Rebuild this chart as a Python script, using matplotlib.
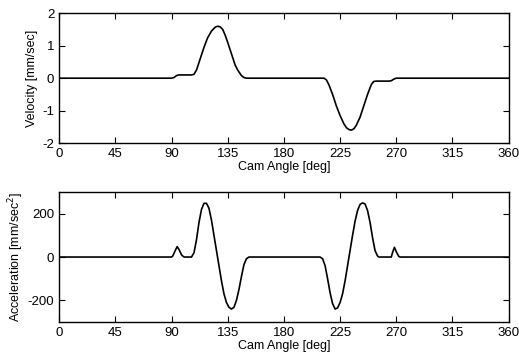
import matplotlib
matplotlib.use('Agg')
from matplotlib import pyplot as plt
import numpy as np

plt.rcParams['font.family'] = ['Liberation Sans', 'DejaVu Sans']
plt.rcParams['axes.unicode_minus'] = False

# velocity
vel_angle = [0, 90, 92, 94, 96, 106, 108, 110, 113, 116, 119, 122, 125, 127, 129, 131,
             133, 135, 138, 141, 143, 146, 148, 150, 212, 214, 216, 219, 222, 225,
             228, 230, 232, 234, 236, 238, 241, 244, 247, 250, 252, 254, 264, 266, 268,
             270, 360]
vel = [0, 0, 0.02, 0.08, 0.1, 0.1, 0.12, 0.25, 0.6, 0.95, 1.25, 1.45, 1.57, 1.6, 1.58, 1.5,
       1.32, 1.1, 0.75, 0.4, 0.25, 0.08, 0.02, 0, 0, -0.05, -0.2, -0.5, -0.85, -1.15,
       -1.4, -1.52, -1.58, -1.6, -1.56, -1.45, -1.2, -0.85, -0.5, -0.2, -0.1, -0.09, -0.09,
       -0.08, -0.03, 0, 0]

# acceleration
acc_angle = [0, 90, 91, 93, 94.5, 96, 98, 100, 106, 108, 110, 112, 114, 116, 118, 120,
             122, 124, 126, 128, 130, 132, 134, 136, 138, 140, 142, 144, 146, 148, 150,
             152, 209, 211, 213, 215, 217, 219, 221, 223, 225, 227, 229, 231, 233, 235,
             237, 239, 241, 243, 245, 247, 249, 251, 253, 255, 256, 266, 267, 268.5,
             270, 272, 273, 360]
acc = [0, 0, 5, 30, 48, 35, 10, 0, 0, 20, 80, 160, 220, 248, 248, 225,
       170, 100, 30, -40, -110, -170, -210, -232, -240, -232, -200, -150, -90, -35, -8,
       0, 0, -8, -40, -100, -165, -215, -240, -235, -210, -170, -110, -40, 30, 100,
       165, 215, 243, 250, 245, 215, 160, 90, 30, 5, 0, 0, 20, 45,
       25, 3, 0, 0]

xticks = [0, 45, 90, 135, 180, 225, 270, 315, 360]

fig = plt.figure(figsize=(5.19, 3.57), dpi=100)
ax1 = fig.add_axes([0.114, 0.599, 0.866, 0.364])
ax2 = fig.add_axes([0.114, 0.098, 0.866, 0.364])

ax1.plot(vel_angle, vel, color='black', linewidth=1.2)
ax1.set_xlim(0, 360)
ax1.set_ylim(-2, 2)
ax1.set_yticks([-2, -1, 0, 1, 2])
ax1.set_ylabel('Velocity [mm/sec]', fontsize=9, labelpad=3)

ax2.plot(acc_angle, acc, color='black', linewidth=1.2)
ax2.set_xlim(0, 360)
ax2.set_ylim(-300, 300)
ax2.set_yticks([-200, 0, 200])
ax2.set_ylabel('Acceleration [mm/sec$^2$]', fontsize=9, labelpad=1)

for ax in (ax1, ax2):
    ax.set_xticks(xticks)
    ax.set_xlabel('Cam Angle [deg]', fontsize=9, labelpad=1)
    ax.tick_params(direction='in', top=True, right=True, length=4, labelsize=9.5)
    for s in ax.spines.values():
        s.set_linewidth(1.0)

fig.savefig('out.png', dpi=100)
